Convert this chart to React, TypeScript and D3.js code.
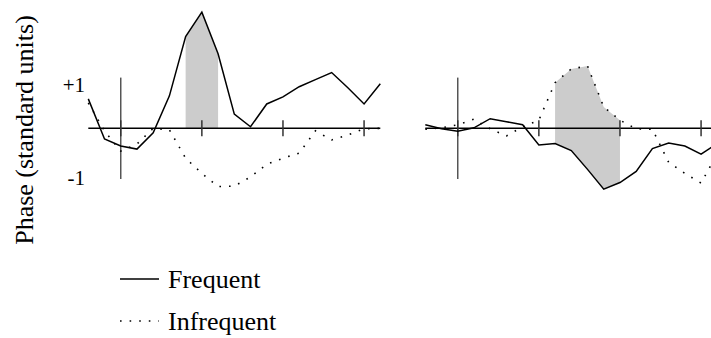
import React, { useRef, useEffect } from 'react';
import * as d3 from 'd3';

// sample index, 0 = stimulus onset (vertical axis)
const samples = [-2, -1, 0, 1, 2, 3, 4, 5, 6, 7, 8, 9, 10, 11, 12, 13, 14, 15, 16];
const tickSamples = [0, 5, 10, 15];
const yTickLabels = ['+1', '-1'];
const legendLabels = ['Frequent', 'Infrequent'];

const leftFrequent = [0.58, -0.21, -0.35, -0.41, -0.09, 0.64, 1.81, 2.29, 1.47, 0.28, 0.03, 0.48, 0.62, 0.82, 0.96, 1.1, 0.8, 0.48, 0.88];
const leftInfrequent = [0.5, -0.05, -0.45, -0.31, 0.0, -0.03, -0.59, -0.89, -1.15, -1.14, -0.96, -0.71, -0.59, -0.49, -0.05, -0.23, -0.13, -0.01, 0.0];
const rightFrequent = [0.07, -0.01, -0.06, 0.01, 0.19, 0.13, 0.07, -0.33, -0.3, -0.44, -0.81, -1.2, -1.07, -0.85, -0.4, -0.29, -0.35, -0.51, -0.3];
const rightInfrequent = [-0.02, 0.01, 0.07, 0.18, -0.01, -0.15, 0.03, 0.16, 0.9, 1.17, 1.23, 0.42, 0.16, -0.01, -0.02, -0.67, -0.89, -1.08, -0.5];

// shaded intervals (sample indices) per panel
const leftShade = [4, 6];
const rightShade = [6, 10];

const width = 711;
const height = 338;
const font = '"Liberation Serif", "Times New Roman", serif';
const dots = '1.6 8';

const App = () => {
  const ref = useRef<SVGSVGElement>(null);

  useEffect(() => {
    const svg = d3.select(ref.current);
    svg.selectAll('*').remove();

    const x = d3.scaleLinear().domain([-2, 16]).range([88.3, 380.3]);
    const y = d3.scaleLinear().domain([-1, 1]).range([179, 77.6]);

    const panels = [
      { dx: 0, freq: leftFrequent, infreq: leftInfrequent, shade: leftShade, lower: null },
      { dx: 337, freq: rightFrequent, infreq: rightInfrequent, shade: rightShade, lower: rightInfrequent },
    ];

    panels.forEach((p) => {
      const g = svg.append('g').attr('transform', `translate(${p.dx},0)`);

      // shaded region
      const idx = samples.filter((s) => s >= p.shade[0] && s <= p.shade[1]);
      const area = d3.area<number>()
        .x((s) => x(s))
        .y0((s) => y(p.lower ? p.lower[samples.indexOf(s)] : 0))
        .y1((s) => y(p.freq[samples.indexOf(s)]));
      g.append('path').attr('d', area(idx)).attr('fill', '#cccccc');

      // axes
      g.append('line')
        .attr('x1', x(-2)).attr('x2', x(16))
        .attr('y1', y(0)).attr('y2', y(0))
        .attr('stroke', '#000').attr('stroke-width', 1.5);
      g.append('line')
        .attr('x1', x(0)).attr('x2', x(0))
        .attr('y1', y(1)).attr('y2', y(-1))
        .attr('stroke', '#555').attr('stroke-width', 1.5);
      g.selectAll('.tick')
        .data(tickSamples)
        .enter()
        .append('line')
        .attr('x1', (d) => x(d)).attr('x2', (d) => x(d))
        .attr('y1', y(0) - 8).attr('y2', y(0) + 8)
        .attr('stroke', '#333').attr('stroke-width', 1.5);

      const line = d3.line<number>()
        .x((d, i) => x(samples[i]))
        .y((d) => y(d));

      g.append('path')
        .attr('d', line(p.infreq))
        .attr('fill', 'none')
        .attr('stroke', '#000')
        .attr('stroke-width', 1.6)
        .attr('stroke-dasharray', dots);

      g.append('path')
        .attr('d', line(p.freq))
        .attr('fill', 'none')
        .attr('stroke', '#000')
        .attr('stroke-width', 1.5)
        .attr('stroke-linejoin', 'miter');
    });

    // y tick labels (left panel only)
    svg.selectAll('.ylab')
      .data(yTickLabels)
      .enter()
      .append('text')
      .attr('x', 85)
      .attr('y', (d, i) => (i === 0 ? y(1) + 14 : y(-1) + 6))
      .attr('text-anchor', 'end')
      .attr('font-family', font)
      .attr('font-size', 21)
      .attr('fill', '#000')
      .text((d) => d);

    // y axis title
    svg.append('text')
      .attr('transform', 'translate(33,130) rotate(-90)')
      .attr('text-anchor', 'middle')
      .attr('font-family', font)
      .attr('font-size', 26)
      .attr('fill', '#000')
      .text('Phase (standard units)');

    // legend
    legendLabels.forEach((lab, i) => {
      const ly = 279 + i * 42;
      svg.append('line')
        .attr('x1', 120).attr('x2', 159)
        .attr('y1', ly).attr('y2', ly)
        .attr('stroke', '#000')
        .attr('stroke-width', i === 0 ? 1.5 : 1.6)
        .attr('stroke-dasharray', i === 0 ? null : dots);
      svg.append('text')
        .attr('x', 168)
        .attr('y', ly + 9)
        .attr('font-family', font)
        .attr('font-size', 26)
        .attr('fill', '#000')
        .text(lab);
    });

    return () => {
      d3.select(ref.current).selectAll('*').remove();
    };
  }, []);

  return (
    <svg
      ref={ref}
      width={width}
      height={height}
      style={{ position: 'absolute', left: 0, top: 0, background: '#fff' }}
    ></svg>
  );
};

export default App;
